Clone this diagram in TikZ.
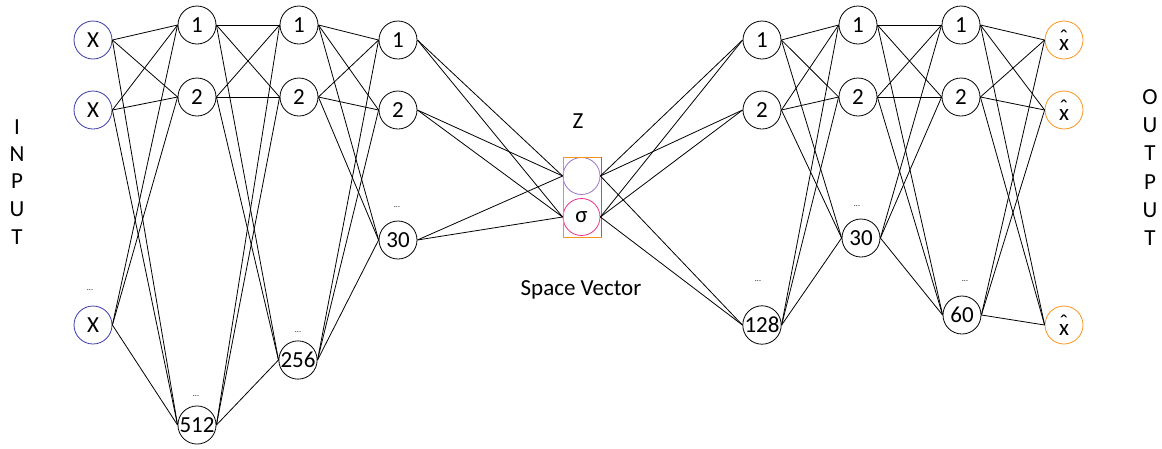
\documentclass[tikz,border=0pt]{standalone}
\usepackage{fontspec}
\setmainfont{Carlito}
\definecolor{inblue}{HTML}{3A3AA8}
\definecolor{outorange}{HTML}{F7941D}
\definecolor{zpurple}{HTML}{9E74C9}
\definecolor{zpink}{HTML}{E8318C}
\newcommand{\xhat}{\ooalign{\hidewidth\raisebox{0.5ex}{ˆ}\hidewidth\cr x}}
\begin{document}
\begin{tikzpicture}[x=1pt,y=-1pt,
  neuron/.style={circle,draw,line width=0.8pt,minimum size=38pt,inner sep=0pt,font=\fontsize{23}{23}\selectfont},
  inneuron/.style={neuron,draw=inblue},
  outneuron/.style={neuron,draw=outorange},
  edge/.style={line width=0.8pt},
  dotlabel/.style={font=\fontsize{8}{8}\selectfont,inner sep=0pt},
  sidelabel/.style={font=\fontsize{23}{23}\selectfont,inner sep=0pt},
  plain/.style={font=\fontsize{23}{23}\selectfont,inner sep=0pt}]
\useasboundingbox (0,0) rectangle (1162,448);
% input layer
\node[inneuron] (i1) at (93,40) {X};
\node[inneuron] (i2) at (93,110) {X};
\node[inneuron] (i3) at (93,325) {X};
% encoder layer 1
\node[neuron] (a1) at (197,25) {1};
\node[neuron] (a2) at (197,97) {2};
\node[neuron] (a3) at (197,425) {512};
% encoder layer 2
\node[neuron] (b1) at (299,25) {1};
\node[neuron] (b2) at (299,97) {2};
\node[neuron] (b3) at (298,360) {256};
% encoder layer 3
\node[neuron] (c1) at (398,40) {1};
\node[neuron] (c2) at (398,110) {2};
\node[neuron] (c3) at (398,240) {30};
% latent
\node[neuron,draw=zpurple,minimum size=37pt] (zt) at (581.5,176) {};
\node[neuron,draw=zpink,minimum size=37pt] (zs) at (581.5,217) {σ};
\node[draw=outorange,line width=0.9pt,minimum width=38pt,minimum height=80pt,inner sep=0pt] (zbox) at (582,197) {};
\draw[zpink,line width=0.9pt] (zbox.north east) -- (zbox.south east);
\node[plain] (zl) at (578,121) {Z};
\node[plain] (sv) at (581,290) {Space Vector};
% decoder layer 1
\node[neuron] (d1) at (762,40) {1};
\node[neuron] (d2) at (762,110) {2};
\node[neuron] (d3) at (762,325) {128};
% decoder layer 2
\node[neuron] (e1) at (858,25) {1};
\node[neuron] (e2) at (858,97) {2};
\node[neuron] (e3) at (861,238) {30};
% decoder layer 3
\node[neuron] (f1) at (961,25) {1};
\node[neuron] (f2) at (961,97) {2};
\node[neuron] (f3) at (962,315) {60};
% output
\node[outneuron] (o1) at (1064,40) {\xhat};
\node[outneuron] (o2) at (1064,110) {\xhat};
\node[outneuron] (o3) at (1064,325) {\xhat};
% ellipsis labels
\node[dotlabel] (g1) at (90,290) {...};
\node[dotlabel] (g2) at (196,396) {...};
\node[dotlabel] (g3) at (298,332) {...};
\node[dotlabel] (g4) at (397,207) {...};
\node[dotlabel] (g5) at (758,281) {...};
\node[dotlabel] (g6) at (857,206) {...};
\node[dotlabel] (g7) at (965,281) {...};
% side labels
\foreach \l/\y [count=\k] in {I/127,N/154,P/181,U/209,T/237}
  \node[sidelabel] (in\k) at (17,\y) {\l};
\foreach \l/\y [count=\k] in {O/97,U/125,T/153,P/182,U/210,T/238}
  \node[sidelabel] (out\k) at (1150,\y) {\l};
% connections
\foreach \s in {i1,i2,i3} \foreach \t in {a1,a2,a3} \draw[edge] (\s.east) -- (\t.west);
\foreach \s in {a1,a2,a3} \foreach \t in {b1,b2,b3} \draw[edge] (\s.east) -- (\t.west);
\foreach \s in {b1,b2,b3} \foreach \t in {c1,c2,c3} \draw[edge] (\s.east) -- (\t.west);
\foreach \s in {c1,c2,c3} \foreach \t in {zt,zs} \draw[edge] (\s.east) -- (\t.west);
\foreach \s in {zt,zs} \foreach \t in {d1,d2,d3} \draw[edge] (\s.east) -- (\t.west);
\foreach \s in {d1,d2,d3} \foreach \t in {e1,e2,e3} \draw[edge] (\s.east) -- (\t.west);
\foreach \s in {e1,e2,e3} \foreach \t in {f1,f2,f3} \draw[edge] (\s.east) -- (\t.west);
\foreach \s in {f1,f2,f3} \foreach \t in {o1,o2,o3} \draw[edge] (\s.east) -- (\t.west);
\end{tikzpicture}
\end{document}
